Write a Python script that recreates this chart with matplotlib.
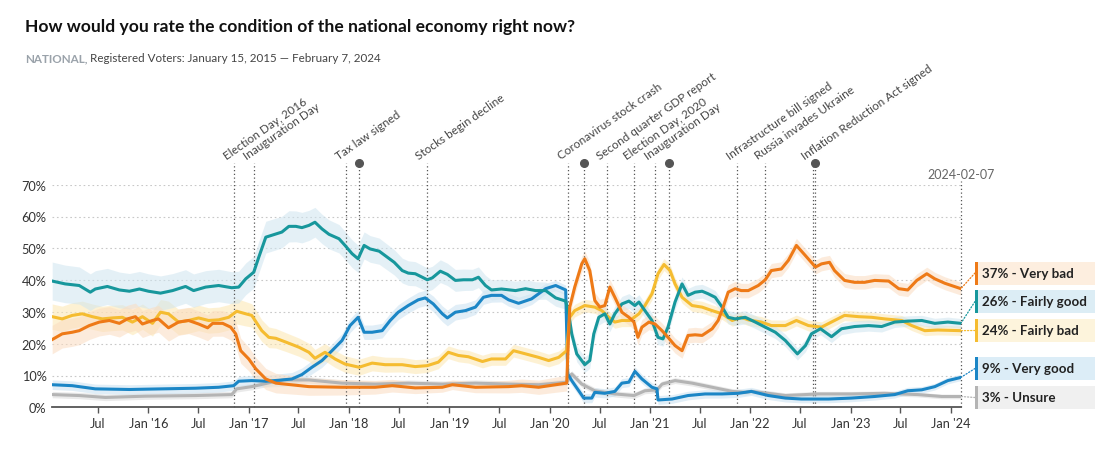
"""Economy rating tracker chart -> out.png"""
import datetime as dt

import matplotlib
matplotlib.use("Agg")
import matplotlib.pyplot as plt
import matplotlib.transforms as mtransforms
from matplotlib.patches import Rectangle
import numpy as np

plt.rcParams['font.family'] = ['Lato', 'DejaVu Sans']

W, H = 1120, 452

# ---- data (decimal years, percent) ----
VB_YEARS = [2015.04, 2015.14, 2015.24, 2015.31, 2015.41, 2015.51, 2015.61, 2015.71, 2015.79, 2015.87,
            2015.94, 2016.04, 2016.10, 2016.20, 2016.30, 2016.40, 2016.50, 2016.59, 2016.64, 2016.74,
            2016.82, 2016.87, 2016.92, 2017.00, 2017.07, 2017.17, 2017.27, 2017.60, 2017.93, 2018.26,
            2018.43, 2018.66, 2018.93, 2019.03, 2019.26, 2019.59, 2019.72, 2019.89, 2020.06, 2020.17,
            2020.20, 2020.25, 2020.32, 2020.35, 2020.40, 2020.45, 2020.50, 2020.55, 2020.60, 2020.65,
            2020.72, 2020.79, 2020.84, 2020.88, 2020.92, 2020.99, 2021.05, 2021.12, 2021.18, 2021.25,
            2021.32, 2021.38, 2021.45, 2021.52, 2021.62, 2021.68, 2021.73, 2021.78, 2021.85, 2021.91,
            2021.98, 2022.08, 2022.15, 2022.21, 2022.31, 2022.38, 2022.46, 2022.55, 2022.65, 2022.71,
            2022.79, 2022.84, 2022.94, 2023.04, 2023.14, 2023.24, 2023.38, 2023.48, 2023.57, 2023.66,
            2023.76, 2023.84, 2023.94, 2024.10]
VB_VALS = [21.3, 23.1, 23.6, 24.1, 25.7, 26.8, 27.3, 26.4, 27.8, 28.5,
           26.2, 27.3, 27.8, 25.0, 26.8, 27.3, 26.2, 25.0, 26.4, 26.4,
           25.2, 23.1, 17.8, 15.2, 12.1, 8.9, 7.6, 6.5, 6.3, 6.3,
           6.8, 6.1, 6.3, 7.1, 6.3, 6.5, 6.8, 6.3, 7.1, 7.6,
           31.5, 37.8, 45.1, 46.7, 43.0, 33.6, 31.5, 32.0, 37.8, 34.6,
           29.9, 28.3, 26.8, 22.0, 25.2, 26.8, 26.2, 24.1, 22.0, 19.4,
           17.8, 22.6, 22.8, 22.6, 24.7, 27.3, 31.5, 36.2, 37.3, 36.7,
           36.7, 38.3, 40.1, 43.0, 43.5, 46.2, 50.9, 47.7, 44.1, 45.1,
           45.6, 43.0, 39.9, 39.3, 39.3, 39.9, 39.7, 37.3, 36.9, 39.9,
           42.0, 40.4, 39.0, 37.3]

FG_YEARS = [2015.04, 2015.17, 2015.31, 2015.42, 2015.47, 2015.59, 2015.71, 2015.81, 2015.91, 2016.00,
            2016.12, 2016.24, 2016.37, 2016.45, 2016.57, 2016.70, 2016.83, 2016.90, 2016.97, 2017.05,
            2017.10, 2017.17, 2017.27, 2017.33, 2017.40, 2017.47, 2017.53, 2017.60, 2017.66, 2017.73,
            2017.80, 2017.90, 2017.96, 2018.03, 2018.09, 2018.15, 2018.21, 2018.30, 2018.36, 2018.45,
            2018.53, 2018.59, 2018.66, 2018.73, 2018.78, 2018.83, 2018.91, 2018.98, 2019.06, 2019.14,
            2019.23, 2019.29, 2019.36, 2019.42, 2019.52, 2019.66, 2019.76, 2019.86, 2019.96, 2020.06,
            2020.16, 2020.19, 2020.22, 2020.27, 2020.35, 2020.40, 2020.44, 2020.49, 2020.55, 2020.60,
            2020.65, 2020.72, 2020.79, 2020.85, 2020.89, 2020.95, 2021.02, 2021.08, 2021.13, 2021.18,
            2021.25, 2021.32, 2021.38, 2021.45, 2021.52, 2021.58, 2021.65, 2021.72, 2021.78, 2021.85,
            2021.95, 2022.05, 2022.15, 2022.25, 2022.35, 2022.41, 2022.47, 2022.55, 2022.61, 2022.70,
            2022.81, 2022.91, 2023.04, 2023.18, 2023.31, 2023.44, 2023.57, 2023.71, 2023.84, 2023.97,
            2024.10]
FG_VALS = [39.7, 38.8, 38.3, 36.2, 37.2, 38.0, 36.9, 36.5, 37.2, 36.5,
           35.9, 36.7, 38.0, 36.7, 37.8, 38.3, 37.6, 37.8, 40.4, 42.5,
           47.2, 53.5, 54.5, 55.1, 56.9, 56.9, 56.5, 57.2, 58.2, 56.1,
           54.4, 53.0, 50.9, 48.3, 46.7, 50.9, 49.8, 49.1, 47.7, 45.6,
           43.0, 42.2, 42.0, 40.9, 40.1, 40.7, 42.8, 41.8, 39.9, 40.1,
           40.1, 40.9, 38.3, 36.9, 37.2, 36.7, 37.3, 36.7, 36.7, 34.4,
           33.4, 29.4, 23.1, 16.8, 13.4, 14.7, 23.1, 28.3, 29.4, 26.2,
           29.4, 32.5, 33.4, 32.0, 33.1, 30.4, 27.3, 22.0, 21.5, 25.2,
           33.1, 38.8, 35.2, 36.2, 36.5, 35.7, 34.6, 31.5, 28.3, 27.8,
           28.3, 26.8, 25.2, 23.6, 21.0, 18.9, 16.8, 19.4, 23.1, 24.7,
           22.2, 24.7, 25.4, 25.7, 25.4, 26.8, 27.1, 27.3, 26.4, 26.8,
           26.4]

FB_YEARS = [2015.04, 2015.14, 2015.24, 2015.34, 2015.44, 2015.54, 2015.64, 2015.74, 2015.84, 2015.94,
            2016.04, 2016.12, 2016.20, 2016.30, 2016.40, 2016.50, 2016.60, 2016.70, 2016.80, 2016.88,
            2016.97, 2017.03, 2017.13, 2017.20, 2017.27, 2017.37, 2017.50, 2017.60, 2017.66, 2017.76,
            2017.86, 2017.96, 2018.10, 2018.23, 2018.36, 2018.53, 2018.66, 2018.78, 2018.89, 2018.99,
            2019.09, 2019.19, 2019.33, 2019.42, 2019.56, 2019.64, 2019.76, 2019.89, 2019.99, 2020.09,
            2020.17, 2020.20, 2020.25, 2020.35, 2020.45, 2020.52, 2020.59, 2020.65, 2020.72, 2020.80,
            2020.89, 2020.95, 2021.02, 2021.08, 2021.14, 2021.20, 2021.25, 2021.32, 2021.42, 2021.52,
            2021.62, 2021.72, 2021.82, 2021.91, 2021.98, 2022.11, 2022.21, 2022.35, 2022.46, 2022.58,
            2022.71, 2022.84, 2022.94, 2023.08, 2023.21, 2023.34, 2023.51, 2023.61, 2023.74, 2023.87,
            2024.10]
FB_VALS = [28.5, 27.8, 28.9, 29.4, 28.5, 27.8, 28.1, 28.3, 26.8, 28.5,
           26.4, 29.9, 29.4, 26.8, 27.3, 28.1, 27.3, 27.5, 28.3, 30.2,
           29.4, 28.9, 24.1, 22.0, 21.7, 20.5, 18.9, 17.3, 15.4, 17.3,
           15.2, 13.6, 12.6, 13.9, 13.4, 13.4, 12.8, 13.1, 14.2, 17.3,
           16.3, 15.9, 14.4, 15.2, 15.2, 17.8, 16.8, 15.7, 14.7, 15.7,
           17.8, 28.3, 30.4, 32.0, 31.5, 30.4, 28.3, 26.8, 27.3, 27.3,
           29.4, 32.0, 35.7, 42.0, 44.9, 43.0, 38.8, 34.6, 32.0, 31.5,
           30.4, 29.4, 27.3, 28.3, 27.5, 26.8, 25.7, 25.7, 27.3, 25.7,
           25.2, 27.3, 28.9, 28.5, 28.3, 27.8, 27.3, 25.7, 24.1, 24.3,
           24.1]

VG_YEARS = [2015.04, 2015.24, 2015.47, 2015.81, 2016.14, 2016.47, 2016.70, 2016.85, 2016.90, 2017.03,
            2017.17, 2017.30, 2017.43, 2017.53, 2017.63, 2017.73, 2017.83, 2017.93, 2018.01, 2018.09,
            2018.15, 2018.23, 2018.33, 2018.41, 2018.49, 2018.59, 2018.69, 2018.76, 2018.84, 2018.93,
            2018.98, 2019.06, 2019.16, 2019.26, 2019.34, 2019.42, 2019.52, 2019.59, 2019.69, 2019.82,
            2019.96, 2020.06, 2020.16, 2020.18, 2020.22, 2020.29, 2020.34, 2020.42, 2020.45, 2020.55,
            2020.65, 2020.72, 2020.79, 2020.85, 2020.92, 2021.02, 2021.07, 2021.08, 2021.22, 2021.38,
            2021.55, 2021.72, 2021.88, 2022.01, 2022.18, 2022.35, 2022.51, 2022.78, 2023.01, 2023.24,
            2023.44, 2023.57, 2023.71, 2023.84, 2023.97, 2024.10]
VG_VALS = [7.1, 6.8, 5.8, 5.6, 5.8, 6.0, 6.3, 6.8, 8.2, 8.4,
           8.2, 8.5, 8.9, 10.3, 12.6, 14.7, 17.8, 21.0, 25.7, 28.3,
           23.6, 23.6, 24.1, 27.3, 29.9, 32.0, 33.8, 34.4, 32.5, 29.4,
           28.1, 29.9, 30.4, 31.5, 34.6, 35.2, 35.2, 33.8, 32.7, 34.1,
           37.3, 38.3, 36.9, 10.5, 8.4, 5.2, 2.9, 2.9, 4.7, 4.4,
           5.0, 7.6, 7.9, 11.3, 8.9, 6.3, 5.8, 2.3, 2.6, 3.7,
           4.2, 4.2, 4.4, 5.0, 3.7, 2.9, 2.6, 2.6, 2.9, 3.4,
           4.0, 5.2, 5.5, 6.5, 8.4, 9.4]

UN_YEARS = [2015.04, 2015.31, 2015.57, 2015.97, 2016.47, 2016.83, 2016.88, 2017.03, 2017.23, 2017.35,
            2017.60, 2017.93, 2018.26, 2018.59, 2018.93, 2019.26, 2019.59, 2019.89, 2020.17, 2020.22,
            2020.32, 2020.45, 2020.65, 2020.84, 2020.95, 2021.07, 2021.12, 2021.25, 2021.42, 2021.62,
            2021.82, 2021.95, 2022.01, 2022.18, 2022.35, 2022.68, 2023.01, 2023.34, 2023.67, 2023.91,
            2024.10]
UN_VALS = [4.0, 3.7, 3.1, 3.5, 3.7, 4.0, 5.8, 6.5, 7.9, 8.6,
           8.6, 7.6, 7.3, 7.6, 7.3, 7.6, 7.3, 7.1, 7.9, 10.5,
           7.3, 5.2, 4.2, 3.7, 5.2, 5.5, 7.3, 8.4, 7.6, 6.3,
           5.0, 4.7, 5.0, 4.4, 3.7, 4.2, 4.2, 4.4, 4.0, 3.4,
           3.4]

# half width of the shaded band, read at a few dates
CI_YEARS = [2015.0, 2016.9, 2017.3, 2019.0, 2020.2, 2024.2]
CI_VB = [4.5, 4.0, 3.0, 1.5, 2.5, 2.0]
CI_FG = [6.0, 5.0, 5.0, 3.5, 2.5, 1.5]
CI_FB = [4.0, 4.0, 3.0, 2.0, 2.0, 1.5]
CI_VG = [1.5, 1.5, 2.0, 2.5, 1.5, 1.0]
CI_UN = [1.0, 1.0, 1.0, 1.0, 1.0, 0.7]

EVENTS = [("2016-11-08", "Election Day, 2016"), ("2017-01-20", "Inauguration Day"),
          ("2017-12-22", "Tax law signed"), ("2018-02-05", None),
          ("2018-10-10", "Stocks begin decline"), ("2020-03-09", "Coronavirus stock crash"),
          ("2020-05-04", None), ("2020-07-30", "Second quarter GDP report"),
          ("2020-11-03", "Election Day, 2020"), ("2021-01-20", "Inauguration Day"),
          ("2021-03-11", None), ("2021-11-15", "Infrastructure bill signed"),
          ("2022-02-24", "Russia invades Ukraine"), ("2022-08-16", "Inflation Reduction Act signed"),
          ("2022-08-23", None)]


def dec(s):
    d = dt.date.fromisoformat(s)
    start = dt.date(d.year, 1, 1)
    n = (dt.date(d.year + 1, 1, 1) - start).days
    return d.year + (d - start).days / n


X0, X1 = dec("2015-01-15"), dec("2024-02-07")

series = [
    # key, years, vals, ci, line colour, band colour, legend bg, label, legend y px
    ("un", UN_YEARS, UN_VALS, CI_UN, "#b4b4b4", "#d9d9d9", "#f0f0f0", "Unsure", 398.5),
    ("vg", VG_YEARS, VG_VALS, CI_VG, "#1b86c6", "#c9e1f1", "#dcedf7", "Very good", 369.5),
    ("fb", FB_YEARS, FB_VALS, CI_FB, "#f5bc30", "#fde7b0", "#fdf4dc", "Fairly bad", 331.5),
    ("fg", FG_YEARS, FG_VALS, CI_FG, "#17979c", "#cfe5f0", "#dcedf5", "Fairly good", 302.5),
    ("vb", VB_YEARS, VB_VALS, CI_VB, "#ee7a17", "#fbdcc0", "#fdeedf", "Very bad", 274.0),
]

fig = plt.figure(figsize=(W / 100, H / 100), dpi=100)
ax = fig.add_axes([52 / W, (H - 408.3) / H, (961 - 52) / W, (408.3 - 185.7) / H])
ax.set_xlim(X0, X1)
ax.set_ylim(0, 70)

for key, yrs, vals, ci, col, band, bg, lab, ly in series:
    yrs = np.array(yrs); vals = np.array(vals)
    hw = np.interp(yrs, CI_YEARS, ci)
    ax.fill_between(yrs, vals - hw, vals + hw, color=band, alpha=0.55, lw=0, zorder=1)
for key, yrs, vals, ci, col, band, bg, lab, ly in series:
    ax.plot(yrs, vals, color=col, lw=2.2, zorder=3, solid_joinstyle="round")

# axes styling
for sp in ("top", "right", "left"):
    ax.spines[sp].set_visible(False)
ax.spines["bottom"].set_color("#555555")
ax.spines["bottom"].set_linewidth(1.3)
ax.spines["bottom"].set_zorder(5)
ax.set_yticks(range(0, 71, 10))
ax.set_yticklabels([f"{v}%" for v in range(0, 71, 10)])
for v in range(10, 71, 10):
    ax.axhline(v, color="#c8c8c8", lw=0.8, ls=(0, (1.5, 2.5)), zorder=0)

ticks, labels = [], []
for y in range(2015, 2025):
    for m in (1, 7):
        t = dec(f"{y}-{m:02d}-01")
        if X0 < t < X1:
            ticks.append(t)
            labels.append("Jul" if m == 7 else f"Jan '{y % 100:02d}")
ax.set_xticks(ticks)
ax.set_xticklabels(labels)
ax.tick_params(axis="x", length=4, width=1, color="#555555", pad=3, labelsize=9.2, labelcolor="#333333")
ax.tick_params(axis="y", length=0, pad=4, labelsize=9.2, labelcolor="#333333")

# event markers
trans = mtransforms.blended_transform_factory(ax.transData, ax.transAxes)
top = (408.3 - 163.5) / (408.3 - 185.7)
for date, text in EVENTS:
    x = dec(date)
    ax.plot([x, x], [0, top], transform=trans, clip_on=False, color="#555555",
            lw=0.9, ls=(0, (1, 2)), zorder=2)
    if text is None:
        ax.plot([x], [top], transform=trans, clip_on=False, marker="o", ms=5.5,
                color="#555555", zorder=4)
    else:
        ax.annotate(text, xy=(x, top), xycoords=trans, xytext=(-4.5, 1),
                    textcoords="offset points", rotation=35, rotation_mode="anchor",
                    ha="left", va="bottom", fontsize=8.5, color="#444444")

# end date marker
end_top = (408.3 - 182) / (408.3 - 185.7)
ax.plot([X1, X1], [0, end_top], transform=trans, clip_on=False, color="#555555",
        lw=0.9, ls=(0, (1, 2)), zorder=2)
ax.text(X1, (408.3 - 175) / (408.3 - 185.7), "2024-02-07", transform=trans,
        ha="center", va="center", fontsize=9, color="#666666")

# end labels
for key, yrs, vals, ci, col, band, bg, lab, ly in series:
    fy = 1 - ly / H
    fig.add_artist(Rectangle((975 / W, fy - 11.5 / H), 120 / W, 23 / H,
                             transform=fig.transFigure, color=bg, lw=0))
    fig.add_artist(Rectangle((975 / W, fy - 11.5 / H), 3 / W, 23 / H,
                             transform=fig.transFigure, color=col, lw=0))
    fig.text(982 / W, fy, f"{round(vals[-1])}% - {lab}", ha="left", va="center",
             fontsize=9.6, fontweight="bold", color="#222222")
    ax.annotate("", xy=(yrs[-1], vals[-1]), xycoords="data",
                xytext=(975 / W, fy), textcoords="figure fraction",
                arrowprops=dict(arrowstyle="-", color=col, lw=0.9, ls=(0, (1, 1.5)),
                                shrinkA=0, shrinkB=0), annotation_clip=False)

# titles
fig.text(25 / W, 1 - 27 / H, "How would you rate the condition of the national economy right now?",
         ha="left", va="center", fontsize=12.6, fontweight="bold", color="#111111")
t1 = fig.text(25 / W, 1 - 59 / H, "NATIONAL,", ha="left", va="center", fontsize=8.4,
              fontweight="bold", color="#9aa2aa")
r = fig.canvas.get_renderer()
bb = t1.get_window_extent(r)
fig.text((bb.x1 + 3) / W, 1 - 59 / H, "Registered Voters: January 15, 2015 \u2014 February 7, 2024",
         ha="left", va="center", fontsize=8.4, color="#444444")

fig.savefig("out.png", dpi=100)
